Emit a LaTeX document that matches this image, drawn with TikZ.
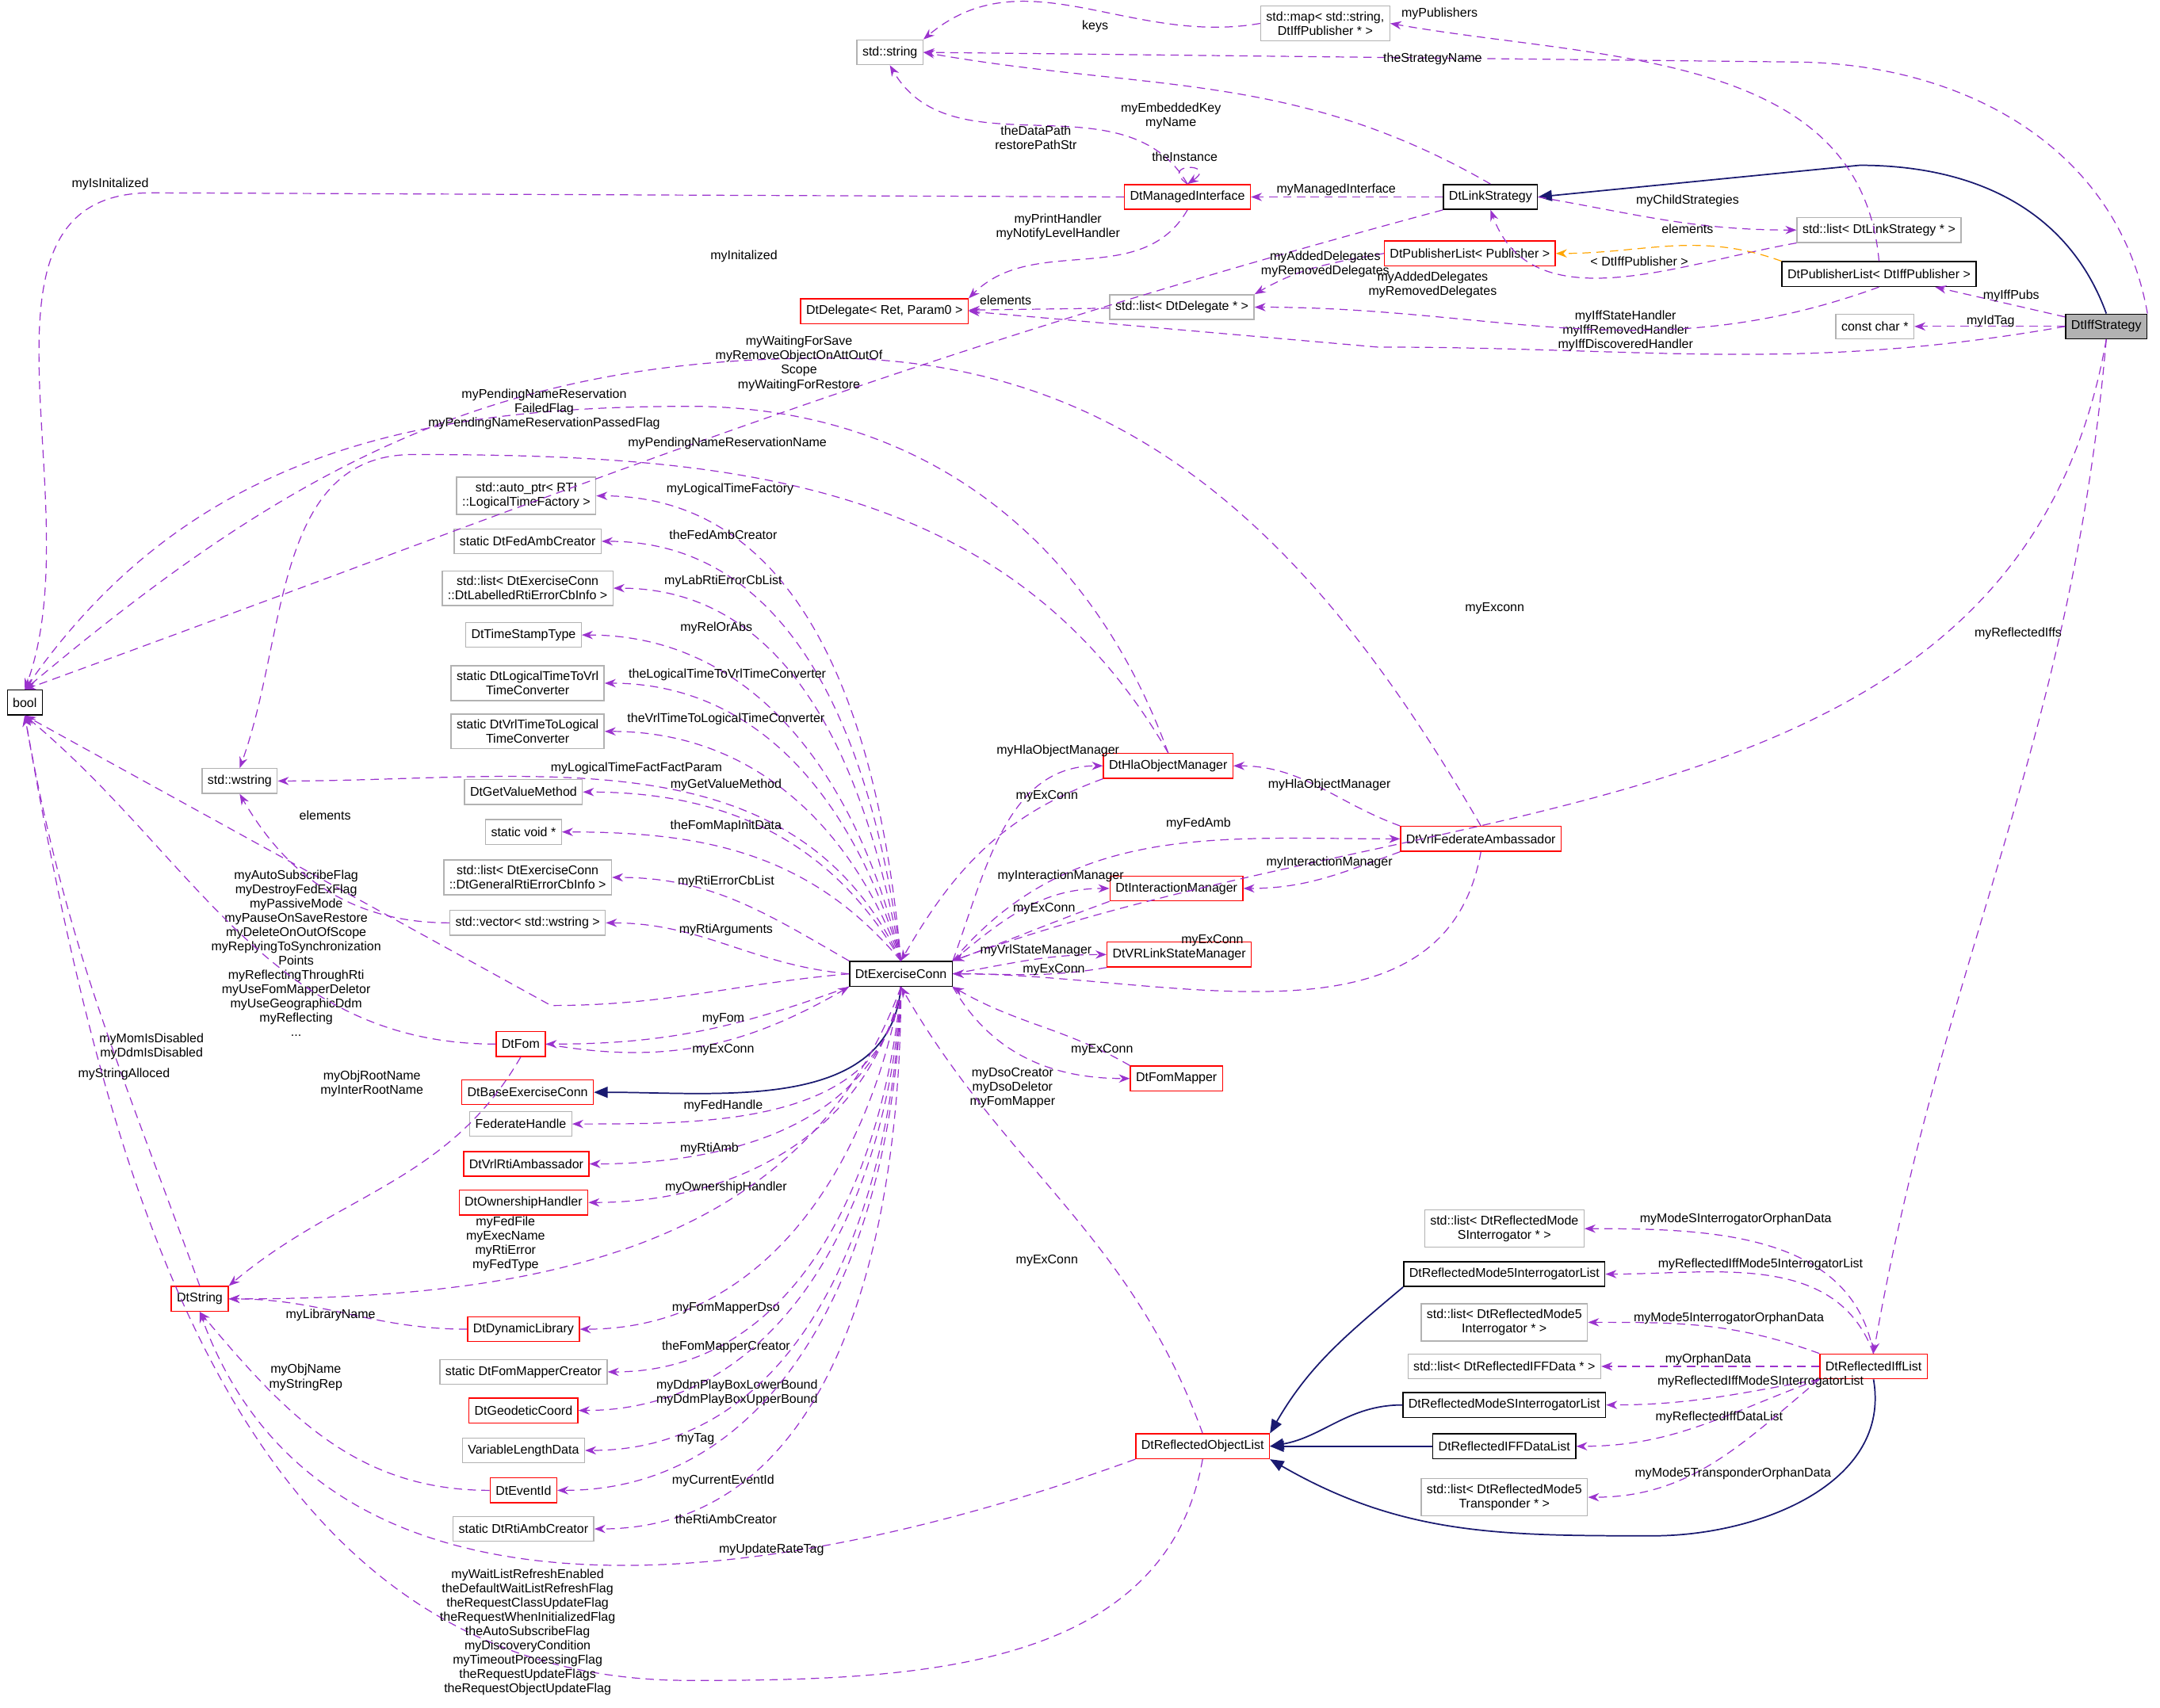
\documentclass[tikz,border=0pt]{standalone}
\usepackage{fontspec}
\setmainfont{Liberation Sans}
\usetikzlibrary{arrows.meta}
\newcommand\fs{\fontsize{4.6}{5.2}\selectfont}
\newcommand\lt{\textless{}}
\newcommand\gt{\textgreater{}}
\definecolor{pur}{HTML}{9A32CD}
\definecolor{nav}{HTML}{191970}
\definecolor{org}{HTML}{FFA500}
\begin{document}
\begin{tikzpicture}[x=0.5pt,y=-0.5pt,
 box/.style={draw,fill=white,inner sep=2pt,minimum height=9pt,font=\fs,align=center},
 g/.style={box,draw=gray!60},
 r/.style={box,draw=red},
 k/.style={box,draw=black},
 lbl/.style={font=\fs,align=center,inner sep=0pt},
 use/.style={draw=pur,densely dashed,line width=0.35pt,-{Stealth[length=4pt,width=3pt]}},
 inh/.style={draw=nav,line width=0.5pt,-{Triangle[length=5pt,width=4pt]}},
 tmp/.style={draw=org,densely dashed,line width=0.35pt,-{Stealth[length=4pt,width=3pt]}}]
\useasboundingbox (0,0) rectangle (1568,1240);
% nodes
\node[box,fill=gray!60] (IS) at (1529,237) {DtIffStrategy};
\node[g] (MAP) at (962,17) {std::map\lt{} std::string,\\ DtIffPublisher * \gt};
\node[g] (STR) at (646,38) {std::string};
\node[k] (LS) at (1082,143) {DtLinkStrategy};
\node[r] (MI) at (862,143) {DtManagedInterface};
\node[g] (LLS) at (1364,167) {std::list\lt{} DtLinkStrategy * \gt};
\node[r] (PLP) at (1067,184) {DtPublisherList\lt{} Publisher \gt};
\node[k] (PLI) at (1364,199) {DtPublisherList\lt{} DtIffPublisher \gt};
\node[g] (LD) at (858,223) {std::list\lt{} DtDelegate * \gt};
\node[r] (DEL) at (642,226) {DtDelegate\lt{} Ret, Param0 \gt};
\node[g] (CC) at (1361,237) {const char *};
\node[k] (BOOL) at (18,510) {bool};
\node[g] (AP) at (382,360) {std::auto\_ptr\lt{} RTI\\ ::LogicalTimeFactory \gt};
\node[g] (FAC) at (383,393) {static DtFedAmbCreator};
\node[g] (LEC) at (383,427) {std::list\lt{} DtExerciseConn\\ ::DtLabelledRtiErrorCbInfo \gt};
\node[g] (TST) at (380,461) {DtTimeStampType};
\node[g] (LTV) at (383,496) {static DtLogicalTimeToVrl\\ TimeConverter};
\node[g] (VTL) at (383,531) {static DtVrlTimeToLogical\\ TimeConverter};
\node[g] (WS) at (174,567) {std::wstring};
\node[g] (GVM) at (380,575) {DtGetValueMethod};
\node[g] (SV) at (380,604) {static void *};
\node[g] (LGE) at (383,637) {std::list\lt{} DtExerciseConn\\ ::DtGeneralRtiErrorCbInfo \gt};
\node[g] (VW) at (383,670) {std::vector\lt{} std::wstring \gt};
\node[k] (EC) at (654,707) {DtExerciseConn};
\node[r] (FOM) at (378,758) {DtFom};
\node[r] (BEC) at (383,793) {DtBaseExerciseConn};
\node[g] (FH) at (378,816) {FederateHandle};
\node[r] (VRA) at (382,845) {DtVrlRtiAmbassador};
\node[r] (OH) at (380,873) {DtOwnershipHandler};
\node[r] (DS) at (145,943) {DtString};
\node[r] (DL) at (380,965) {DtDynamicLibrary};
\node[g] (FMC) at (380,996) {static DtFomMapperCreator};
\node[r] (GC) at (380,1024) {DtGeodeticCoord};
\node[g] (VLD) at (380,1053) {VariableLengthData};
\node[r] (EID) at (380,1082) {DtEventId};
\node[g] (RAC) at (380,1110) {static DtRtiAmbCreator};
\node[r] (HOM) at (848,556) {DtHlaObjectManager};
\node[r] (VFA) at (1075,609) {DtVrlFederateAmbassador};
\node[r] (IM) at (854,645) {DtInteractionManager};
\node[r] (VSM) at (856,693) {DtVRLinkStateManager};
\node[r] (FM) at (854,783) {DtFomMapper};
\node[r] (ROL) at (873,1050) {DtReflectedObjectList};
\node[g] (LMS) at (1092,892) {std::list\lt{} DtReflectedMode\\ SInterrogator * \gt};
\node[k] (M5L) at (1092,925) {DtReflectedMode5InterrogatorList};
\node[g] (LM5) at (1092,960) {std::list\lt{} DtReflectedMode5\\ Interrogator * \gt};
\node[g] (LIF) at (1092,992) {std::list\lt{} DtReflectedIFFData * \gt};
\node[k] (MSL) at (1092,1020) {DtReflectedModeSInterrogatorList};
\node[k] (IDL) at (1092,1050) {DtReflectedIFFDataList};
\node[g] (LTR) at (1092,1087) {std::list\lt{} DtReflectedMode5\\ Transponder * \gt};
\node[r] (RIL) at (1360,992) {DtReflectedIffList};
% top region edges
\draw[inh] (IS.north) to[out=110,in=0] (1350,120) -- (LS.east);
\draw[use] (IS.north east) to[out=100,in=0] (1300,45) -- (STR.east);
\node[lbl] at (1040,43) {theStrategyName};
\draw[use] (IS) -- (PLI);
\node[lbl] at (1460,215) {myIffPubs};
\draw[use] (IS) -- (CC);
\node[lbl] at (1445,233) {myIdTag};
\draw[use] (IS.west) to[out=190,in=0] (1000,252) -- (DEL.east);
\node[lbl] at (1180,240) {myIffStateHandler\\myIffRemovedHandler\\myIffDiscoveredHandler};
\draw[use] (IS.south) to[out=-100,in=20] (EC.north east);
\node[lbl] at (1085,442) {myExconn};
\draw[use] (IS.south) to[out=-95,in=80] (RIL.north);
\node[lbl] at (1465,460) {myReflectedIffs};
\draw[use] (MAP.west) to[out=190,in=40] (STR.north east);
\node[lbl] at (795,19) {keys};
\draw[use] (PLI.north) to[out=95,in=-10] (MAP.east);
\node[lbl] at (1045,10) {myPublishers};
\draw[use] (LS.north) to[out=150,in=-10] (STR.east);
\node[lbl] at (850,84) {myEmbeddedKey\\myName};
\draw[use] (LS) -- (MI);
\node[lbl] at (970,138) {myManagedInterface};
\draw[use] (LS.east) to[out=-10,in=180] (LLS.west);
\node[lbl] at (1225,146) {myChildStrategies};
\draw[use] (LLS.south west) to[out=190,in=-70] (LS.south);
\node[lbl] at (1225,166) {elements};
\draw[use] (LS.south west) to[out=195,in=20] (BOOL.north);
\node[lbl] at (540,186) {myInitalized};
\draw[use] (MI.north) to[out=120,in=-60] (STR.south);
\node[lbl] at (752,100) {theDataPath\\restorePathStr};
\draw[use] (MI.north) .. controls (840,118) and (885,118) .. (MI.north);
\node[lbl] at (860,114) {theInstance};
\draw[use] (MI.west) -- (110,140) to[out=180,in=70] (BOOL.north);
\node[lbl] at (80,134) {myIsInitalized};
\draw[use] (MI.south) to[out=-120,in=45] (DEL.north east);
\node[lbl] at (768,165) {myPrintHandler\\myNotifyLevelHandler};
\draw[use] (PLP.west) to[out=190,in=30] (LD.north east);
\node[lbl] at (962,192) {myAddedDelegates\\myRemovedDelegates};
\draw[use] (PLI.south) to[out=-160,in=0] (LD.east);
\node[lbl] at (1040,207) {myAddedDelegates\\myRemovedDelegates};
\draw[use] (LD) -- (DEL);
\node[lbl] at (730,218) {elements};
\draw[tmp] (PLI.north west) to[out=160,in=0] (PLP.east);
\node[lbl] at (1190,190) {\lt{} DtIffPublisher \gt};
\draw[use] (VFA.north) to[out=120,in=0] (600,260) to[out=180,in=40] (BOOL.north);
\node[lbl] at (580,264) {myWaitingForSave\\myRemoveObjectOnAttOutOf\\Scope\\myWaitingForRestore};
\draw[use] (HOM.north) to[out=110,in=0] (500,295) to[out=180,in=55] (BOOL.north);
\node[lbl] at (395,297) {myPendingNameReservation\\FailedFlag\\myPendingNameReservationPassedFlag};
\draw[use] (HOM.north) to[out=120,in=0] (300,330) to[out=180,in=70] (WS.north);
\node[lbl] at (528,322) {myPendingNameReservationName};
% ExerciseConn fan
\draw[use] (EC.north) to[out=95,in=0] (AP.east);
\node[lbl] at (530,355) {myLogicalTimeFactory};
\draw[use] (EC.north) to[out=97,in=0] (FAC.east);
\node[lbl] at (525,388) {theFedAmbCreator};
\draw[use] (EC.north) to[out=100,in=0] (LEC.east);
\node[lbl] at (525,422) {myLabRtiErrorCbList};
\draw[use] (EC.north) to[out=103,in=0] (TST.east);
\node[lbl] at (520,456) {myRelOrAbs};
\draw[use] (EC.north) to[out=106,in=0] (LTV.east);
\node[lbl] at (528,490) {theLogicalTimeToVrlTimeConverter};
\draw[use] (EC.north) to[out=110,in=0] (VTL.east);
\node[lbl] at (527,522) {theVrlTimeToLogicalTimeConverter};
\draw[use] (EC.north) to[out=115,in=0] (WS.east);
\node[lbl] at (462,558) {myLogicalTimeFactFactParam};
\draw[use] (EC.north) to[out=120,in=0] (GVM.east);
\node[lbl] at (527,570) {myGetValueMethod};
\draw[use] (EC.north) to[out=130,in=0] (SV.east);
\node[lbl] at (527,600) {theFomMapInitData};
\draw[use] (EC.north west) to[out=150,in=0] (LGE.east);
\node[lbl] at (527,640) {myRtiErrorCbList};
\draw[use] (EC.west) to[out=175,in=0] (VW.east);
\node[lbl] at (527,675) {myRtiArguments};
\draw[use] (EC.west) to[out=185,in=0] (400,730) -- (BOOL.south);
\node[lbl] at (215,692) {myAutoSubscribeFlag\\myDestroyFedExFlag\\myPassiveMode\\myPauseOnSaveRestore\\myDeleteOnOutOfScope\\myReplyingToSynchronization\\Points\\myReflectingThroughRti\\myUseFomMapperDeletor\\myUseGeographicDdm\\myReflecting\\...};
\draw[use] (EC.south west) to[out=200,in=0] (FOM.east);
\node[lbl] at (525,740) {myFom};
\draw[use] (FOM.east) to[out=-10,in=210] (EC.south west);
\node[lbl] at (525,762) {myExConn};
\draw[inh] (EC.south) to[out=-95,in=0] (BEC.east);
\draw[use] (EC.south) to[out=-97,in=0] (FH.east);
\node[lbl] at (525,803) {myFedHandle};
\draw[use] (EC.south) to[out=-100,in=0] (VRA.east);
\node[lbl] at (515,834) {myRtiAmb};
\draw[use] (EC.south) to[out=-102,in=0] (OH.east);
\node[lbl] at (527,862) {myOwnershipHandler};
\draw[use] (EC.south) to[out=-110,in=0] (DS.east);
\node[lbl] at (367,903) {myFedFile\\myExecName\\myRtiError\\myFedType};
\draw[use] (EC.south) to[out=-100,in=0] (DL.east);
\node[lbl] at (527,950) {myFomMapperDso};
\draw[use] (EC.south) to[out=-95,in=0] (FMC.east);
\node[lbl] at (527,978) {theFomMapperCreator};
\draw[use] (EC.south) to[out=-93,in=0] (GC.east);
\node[lbl] at (535,1011) {myDdmPlayBoxLowerBound\\myDdmPlayBoxUpperBound};
\draw[use] (EC.south) to[out=-92,in=0] (VLD.east);
\node[lbl] at (505,1045) {myTag};
\draw[use] (EC.south) to[out=-91,in=0] (EID.east);
\node[lbl] at (525,1075) {myCurrentEventId};
\draw[use] (EC.south) to[out=-90,in=0] (RAC.east);
\node[lbl] at (527,1103) {theRtiAmbCreator};
% right of EC
\draw[use] (EC.north east) to[out=70,in=180] (HOM.west);
\node[lbl] at (768,545) {myHlaObjectManager};
\draw[use] (HOM.south west) to[out=200,in=60] (EC.north);
\node[lbl] at (760,578) {myExConn};
\draw[use] (EC.north east) to[out=50,in=180] (VFA.west);
\node[lbl] at (870,598) {myFedAmb};
\draw[use] (VFA.south) to[out=-100,in=0] (EC.east);
\node[lbl] at (880,683) {myExConn};
\draw[use] (EC.north east) to[out=40,in=180] (IM.west);
\node[lbl] at (770,636) {myInteractionManager};
\draw[use] (IM.south west) to[out=200,in=20] (EC.north east);
\node[lbl] at (758,660) {myExConn};
\draw[use] (EC.east) to[out=10,in=180] (VSM.west);
\node[lbl] at (752,690) {myVrlStateManager};
\draw[use] (VSM.south west) to[out=190,in=0] (EC.east);
\node[lbl] at (765,704) {myExConn};
\draw[use] (EC.south east) to[out=-60,in=180] (FM.west);
\node[lbl] at (735,790) {myDsoCreator\\myDsoDeletor\\myFomMapper};
\draw[use] (FM.north west) to[out=150,in=-30] (EC.south east);
\node[lbl] at (800,762) {myExConn};
\draw[use] (VFA.north west) to[out=160,in=0] (HOM.east);
\node[lbl] at (965,570) {myHlaObjectManager};
\draw[use] (VFA.south west) to[out=200,in=0] (IM.east);
\node[lbl] at (965,626) {myInteractionManager};
% misc
\draw[use] (VW.west) to[out=180,in=-60] (WS.south);
\node[lbl] at (236,592) {elements};
\draw[use] (FOM.west) to[out=180,in=-40] (BOOL.south);
\node[lbl] at (110,760) {myMomIsDisabled\\myDdmIsDisabled};
\draw[use] (FOM.south) to[out=-120,in=40] (DS.north east);
\node[lbl] at (270,787) {myObjRootName\\myInterRootName};
\draw[use] (DS.north) to[out=110,in=-80] (BOOL.south);
\node[lbl] at (90,780) {myStringAlloced};
\draw[use] (DL.west) to[out=180,in=0] (DS.east);
\node[lbl] at (240,955) {myLibraryName};
\draw[use] (EID.west) to[out=180,in=-50] (DS.south);
\node[lbl] at (222,1000) {myObjName\\myStringRep};
% reflected
\draw[use] (ROL.north) to[out=110,in=-60] (EC.south);
\node[lbl] at (760,915) {myExConn};
\draw[use] (ROL.south west) to[out=200,in=-70] (DS.south);
\node[lbl] at (560,1125) {myUpdateRateTag};
\draw[use] (ROL.south) to[out=-100,in=0] (500,1220) to[out=180,in=-80] (BOOL.south);
\node[lbl] at (383,1185) {myWaitListRefreshEnabled\\theDefaultWaitListRefreshFlag\\theRequestClassUpdateFlag\\theRequestWhenInitializedFlag\\theAutoSubscribeFlag\\myDiscoveryCondition\\myTimeoutProcessingFlag\\theRequestUpdateFlags\\theRequestObjectUpdateFlag};
\draw[inh] (M5L.south west) to[out=220,in=60] (ROL.north east);
\draw[inh] (MSL.west) to[out=180,in=10] (ROL.east);
\draw[inh] (IDL) -- (ROL);
\draw[inh] (RIL.south) to[out=-80,in=0] (1200,1115) to[out=180,in=-30] (ROL.south east);
\draw[use] (RIL.north) to[out=100,in=0] (LMS.east);
\node[lbl] at (1260,885) {myModeSInterrogatorOrphanData};
\draw[use] (RIL.north) to[out=110,in=0] (M5L.east);
\node[lbl] at (1278,918) {myReflectedIffMode5InterrogatorList};
\draw[use] (RIL.north west) to[out=160,in=0] (LM5.east);
\node[lbl] at (1255,957) {myMode5InterrogatorOrphanData};
\draw[use] (RIL.west) -- (LIF.east);
\node[lbl] at (1240,987) {myOrphanData};
\draw[use] (RIL.south west) to[out=190,in=0] (MSL.east);
\node[lbl] at (1278,1003) {myReflectedIffModeSInterrogatorList};
\draw[use] (RIL.south west) to[out=200,in=0] (IDL.east);
\node[lbl] at (1248,1029) {myReflectedIffDataList};
\draw[use] (RIL.south west) to[out=220,in=0] (LTR.east);
\node[lbl] at (1258,1070) {myMode5TransponderOrphanData};
\end{tikzpicture}
\end{document}
